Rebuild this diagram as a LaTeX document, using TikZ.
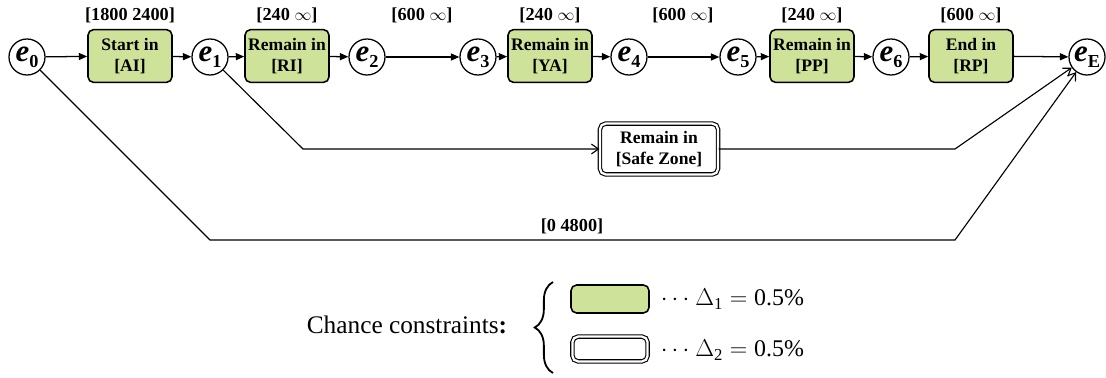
\documentclass[tikz,border=0pt]{standalone}
\usepackage{fontspec}
\setmainfont{Liberation Serif}
\usepackage{xcolor}
\definecolor{ccgreen}{HTML}{CEE29A}
\usepackage{tikz}
\usetikzlibrary{arrows.meta, positioning, decorations.pathreplacing}

\newcommand{\ev}[1]{\textbf{\textit{e}}\raisebox{-0.45ex}{\fontsize{13}{13}\selectfont\bfseries #1}}

\begin{document}
\begin{tikzpicture}[x=0.025cm, y=-0.025cm,
  event/.style={circle, draw, line width=0.9pt, minimum size=0.9cm, inner sep=0pt,
                fill=white, font=\fontsize{22}{22}\selectfont},
  task/.style={rounded corners=4pt, minimum width=2.1cm, minimum height=1.32cm,
               draw, line width=1.1pt, fill=ccgreen, align=center, inner sep=1pt,
               font=\fontsize{12.5}{14.5}\selectfont\bfseries},
  safe/.style={rounded corners=4pt, minimum width=2.95cm, minimum height=1.27cm,
               draw, double, double distance=1.6pt, line width=0.8pt, fill=white,
               align=center, inner sep=1pt, font=\fontsize{12.5}{14.5}\selectfont\bfseries},
  bound/.style={font=\fontsize{13}{14.5}\selectfont\bfseries},
  flow/.style={-{Triangle[length=6pt, width=5pt]}, line width=0.9pt},
  opt/.style={-{Straight Barb[length=5pt, width=7pt]}, line width=0.8pt}
]
  \useasboundingbox (0,0) rectangle (1106,377);

  % Events
  \node[event] (e0) at (27,57) {\ev{0}};
  \node[event] (e1) at (210,57) {\ev{1}};
  \node[event] (e2) at (367,57) {\ev{2}};
  \node[event] (e3) at (478,57) {\ev{3}};
  \node[event] (e4) at (629,57) {\ev{4}};
  \node[event] (e5) at (738,57) {\ev{5}};
  \node[event] (e6) at (891,57) {\ev{6}};
  \node[event] (eE) at (1087,57) {\ev{E}};

  % Episodes
  \node[task] (ai) at (130,56) {Start in\\{[AI]}};
  \node[task] (ri) at (287,56) {Remain in\\{[RI]}};
  \node[task] (ya) at (550,56) {Remain in\\{[YA]}};
  \node[task] (pp) at (812,56) {Remain in\\{[PP]}};
  \node[task] (rp) at (971,56) {End in\\{[RP]}};
  \node[safe] (sz) at (659,149) {Remain in\\{[Safe Zone]}};

  % Temporal bounds
  \node[bound] (bai) at (130,15) {[1800 2400]};
  \node[bound] (bri) at (287,15) {[240 $\infty$]};
  \node[bound] (b23) at (422,15) {[600 $\infty$]};
  \node[bound] (bya) at (550,15) {[240 $\infty$]};
  \node[bound] (b45) at (683,15) {[600 $\infty$]};
  \node[bound] (bpp) at (812,15) {[240 $\infty$]};
  \node[bound] (brp) at (971,15) {[600 $\infty$]};
  \node[bound] (ball) at (572,226) {[0 4800]};

  % Bends
  \coordinate (k1) at (303,149);
  \coordinate (k2) at (955,149);
  \coordinate (k3) at (210,240);
  \coordinate (k4) at (955,240);

  % Arrows
  \foreach \a/\b in {e0/ai,ai/e1,e1/ri,ri/e2,e2/e3,e3/ya,ya/e4,e4/e5,e5/pp,pp/e6,e6/rp,rp/eE}
    \draw[flow] (\a) -- (\b);
  \draw[opt] (e1) -- (k1) -- (sz);
  \draw[opt] (sz) -- (k2) -- (eE);
  \draw[opt] (e0) -- (k3) -- (k4) -- (eE);

  % Legend
  \node[font=\fontsize{18}{19}\selectfont] (cc) at (407,325) {Chance constraints\textbf{:}};
  \draw[decorate, decoration={brace, amplitude=13pt}, line width=1.3pt] (553,373) -- (553,282);
  \node[task, minimum width=1.95cm, minimum height=0.7cm] (lg1) at (610,299) {};
  \node[safe, minimum width=1.88cm, minimum height=0.62cm] (lg2) at (610,349) {};
  \node[anchor=west, font=\fontsize{17}{18}\selectfont] (d1) at (656,299) {$\cdots$ $\Delta$\textsubscript{1}${}={}$0.5\%};
  \node[anchor=west, font=\fontsize{17}{18}\selectfont] (d2) at (656,350) {$\cdots$ $\Delta$\textsubscript{2}${}={}$0.5\%};
\end{tikzpicture}
\end{document}
